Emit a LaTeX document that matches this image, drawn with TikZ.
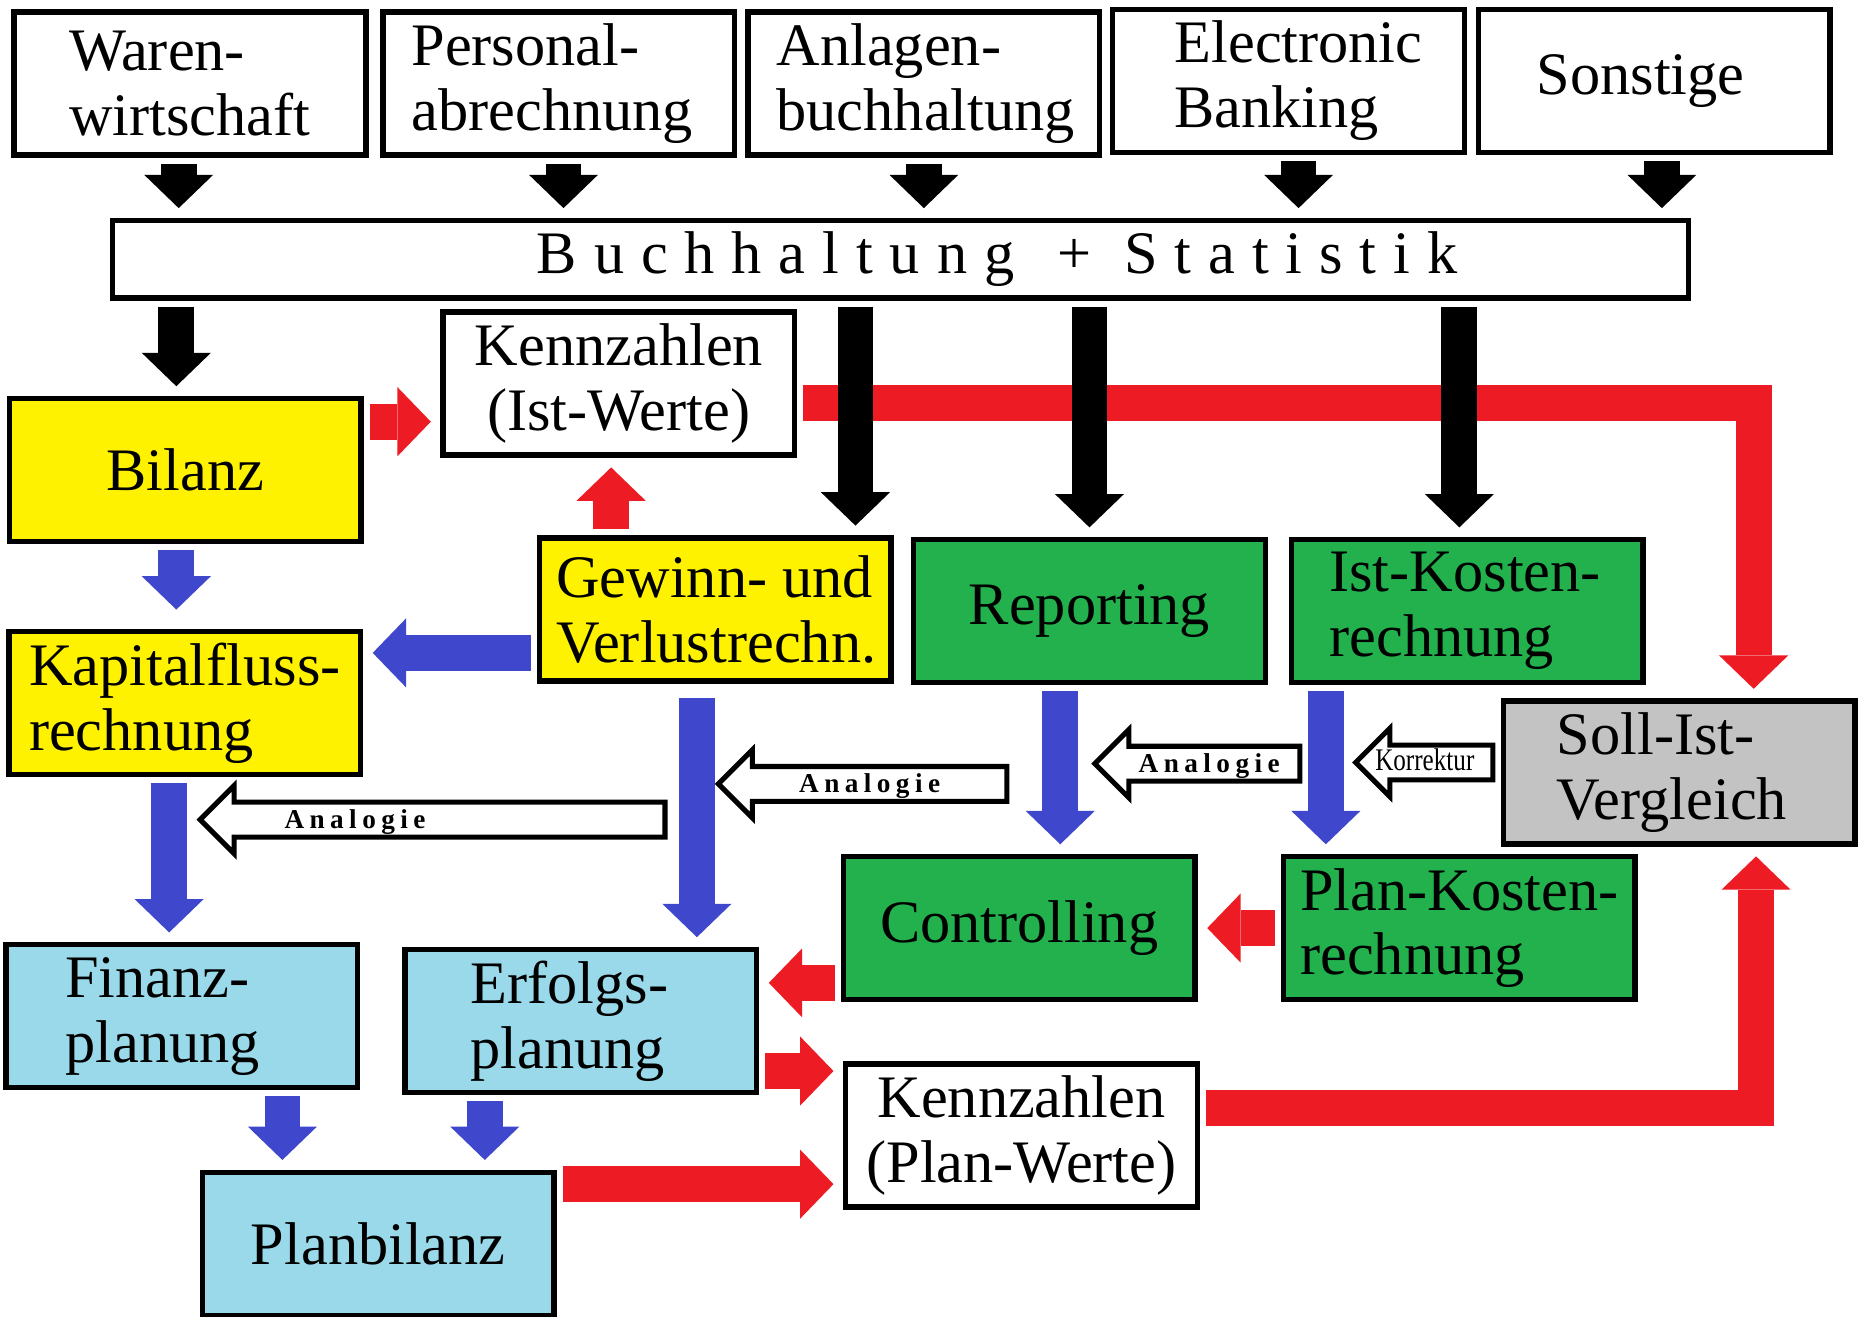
\documentclass[tikz,border=0pt]{standalone}
\usepackage{fontspec}
\setmainfont{Liberation Serif}
\usepackage{xcolor}
\usepackage{graphicx}
\usepackage{tikz}
\usetikzlibrary{positioning, arrows.meta, shapes.arrows}
\definecolor{boxyellow}{HTML}{FFF200}
\definecolor{boxgreen}{HTML}{22B14C}
\definecolor{boxblue}{HTML}{99D9EA}
\definecolor{boxgray}{HTML}{C3C3C3}
\definecolor{arrred}{HTML}{ED1C24}
\definecolor{arrblue}{HTML}{3F48CC}

\tikzset{
  box/.style={draw, line width=1.3pt, minimum width=2.95cm, minimum height=1.2cm,
    inner sep=0pt, align=center, font=\fontsize{14.4}{15.5}\selectfont},
  lbox/.style={box, text width=2.95cm, align=flush left, execute at begin node={\leftskip=#1}},
  fat/.style={line width=0.3cm, shorten <=0.05cm, shorten >=0.08cm,
    -{Triangle[length=0.28cm, width=0.58cm, line width=0pt]}},
  blackfat/.style={fat, black},
  redfat/.style={fat, arrred},
  bluefat/.style={fat, arrblue},
  hollow/.style={single arrow, draw, fill=white, line width=1.2pt, shape border rotate=180,
    inner xsep=0pt, inner ysep=0.125cm, single arrow head extend=0.14cm, anchor=tip},
  analogie/.style={inner sep=0pt, font=\fontsize{6.5}{7}\selectfont\bfseries\addfontfeature{LetterSpace=20}},
}

\begin{document}
\begin{tikzpicture}[x=0.01cm, y=-0.01cm]
  \path[use as bounding box, fill=white] (0,0) rectangle (1568,1105);

  % Quellsysteme
  \node[lbox=0.46cm] (waren) at (159.5,70) {Waren-\\wirtschaft};
  \node[lbox=0.24cm] (personal) at (469,70) {Personal-\\abrechnung};
  \node[lbox=0.24cm] (anlagen) at (775.5,70) {Anlagen-\\buchhaltung};
  \node[lbox=0.52cm] (banking) at (1081.5,68) {Electronic\\Banking};
  \node[lbox=0.49cm] (sonstige) at (1388.5,68) {Sonstige};

  \node[box, minimum width=13.22cm, minimum height=0.65cm,
        font=\fontsize{14.4}{15.5}\selectfont\addfontfeature{LetterSpace=28}] (buch) at (756,217.5)
        {\hspace{1.62cm}Buchhaltung\hspace{0.36cm}+\hspace{0.28cm}Statistik};

  % Ist-Seite
  \node[box] (kist) at (519.5,322) {Kennzahlen\\(Ist-Werte)};
  \node[box, fill=boxyellow] (bilanz) at (155.5,394.5) {Bilanz};
  \node[lbox=0.14cm, fill=boxyellow] (guv) at (600.5,511.5) {Gewinn- und\\Verlustrechn.};
  \node[box, fill=boxgreen] (reporting) at (914.5,513) {Reporting};
  \node[lbox=0.32cm, fill=boxgreen] (istkosten) at (1231.5,513) {Ist-Kosten-\\rechnung};
  \node[lbox=0.17cm, fill=boxyellow] (kapital) at (155,590) {Kapitalfluss-\\rechnung};
  \node[lbox=0.45cm, fill=boxgray] (sollist) at (1409.5,648.5) {Soll-Ist-\\Vergleich};

  % Plan-Seite
  \node[box, fill=boxgreen] (controlling) at (855.5,779) {Controlling};
  \node[lbox=0.14cm, fill=boxgreen] (plankosten) at (1225,779) {Plan-Kosten-\\rechnung};
  \node[lbox=0.5cm, fill=boxblue] (finanz) at (152.5,853) {Finanz-\\planung};
  \node[lbox=0.55cm, fill=boxblue] (erfolg) at (487.5,857) {Erfolgs-\\planung};
  \node[box] (kplan) at (857.5,953) {Kennzahlen\\(Plan-Werte)};
  \node[box, fill=boxblue] (planbilanz) at (317.5,1044) {Planbilanz};

  % in die Buchhaltung
  \draw[blackfat] ([xshift=-0.095cm]waren.south) -- ([xshift=-0.095cm]waren.south |- buch.north);
  \draw[blackfat] ([xshift=0.04cm]personal.south) -- ([xshift=0.04cm]personal.south |- buch.north);
  \draw[blackfat] (anlagen.south) -- (anlagen.south |- buch.north);
  \draw[blackfat] ([xshift=0.085cm]banking.south) -- ([xshift=0.085cm]banking.south |- buch.north);
  \draw[blackfat] ([xshift=0.065cm]sonstige.south) -- ([xshift=0.065cm]sonstige.south |- buch.north);

  % Ist-Werte zum Soll-Ist-Vergleich (unter den schwarzen Pfeilen)
  \draw[redfat] ([yshift=-0.16cm]kist.east) -| ([xshift=0.625cm]sollist.north);

  % aus der Buchhaltung
  \draw[blackfat] ([xshift=-0.075cm]bilanz.north |- buch.south) -- ([xshift=-0.075cm]bilanz.north);
  \draw[blackfat] ([xshift=1.175cm]guv.north |- buch.south) -- ([xshift=1.175cm]guv.north);
  \draw[blackfat] (reporting.north |- buch.south) -- (reporting.north);
  \draw[blackfat] ([xshift=-0.065cm]istkosten.north |- buch.south) -- ([xshift=-0.065cm]istkosten.north);

  % rote Pfeile
  \draw[redfat] ([yshift=0.405cm]bilanz.east) -- ([yshift=0.405cm]bilanz.east -| kist.west);
  \draw[redfat] ([xshift=-0.065cm]kist.south |- guv.north) -- ([xshift=-0.065cm]kist.south);
  \draw[redfat] (plankosten.west) -- (controlling.east);
  \draw[redfat] ([yshift=-0.46cm]controlling.west) -- ([yshift=-0.46cm]controlling.west -| erfolg.east);
  \draw[redfat] ([yshift=-0.42cm]erfolg.east) -- ([yshift=-0.42cm]erfolg.east -| kplan.west);
  \draw[redfat] ([yshift=0.5cm]planbilanz.east) -- ([yshift=0.5cm]planbilanz.east -| kplan.west);
  \draw[redfat] ([yshift=0.23cm]kplan.east) -| ([xshift=0.645cm]sollist.south);

  % blaue Pfeile
  \draw[bluefat, shorten >=0.16cm] ([xshift=-0.075cm]bilanz.south) -- ([xshift=-0.075cm]bilanz.south |- kapital.north);
  \draw[bluefat] ([yshift=-0.365cm]guv.west) -- ([yshift=-0.365cm]guv.west -| kapital.east);
  \draw[bluefat, shorten <=0.12cm] ([xshift=-0.155cm]guv.south) -- ([xshift=-0.155cm]guv.south |- erfolg.north);
  \draw[bluefat] ([xshift=-0.13cm]kapital.south) -- ([xshift=-0.13cm]kapital.south |- finanz.north);
  \draw[bluefat] ([xshift=-0.245cm]reporting.south) -- ([xshift=-0.245cm]reporting.south |- controlling.north);
  \draw[bluefat] ([xshift=-1.185cm]istkosten.south) -- ([xshift=-1.185cm]istkosten.south |- plankosten.north);
  \draw[bluefat] ([xshift=0.845cm]finanz.south) -- ([xshift=0.845cm]finanz.south |- planbilanz.north);
  \draw[bluefat] ([xshift=-0.805cm]erfolg.south) -- ([xshift=-0.805cm]erfolg.south |- planbilanz.north);

  % Analogie / Korrektur
  \node[hollow, minimum height=3.9cm] (ana1) at (165,688) {};
  \node[hollow, minimum height=2.42cm] (ana2) at (600,658) {};
  \node[hollow, minimum height=1.72cm] (ana3) at (916,641) {};
  \node[hollow, minimum height=1.15cm] (korrektur) at (1135,640) {};
  \node[analogie] (ana1txt) at (298,690) {Analogie};
  \node[analogie] (ana2txt) at (730,660) {Analogie};
  \node[analogie] (ana3txt) at (1015,643) {Analogie};
  \node[inner sep=0pt, font=\fontsize{7.5}{8}\selectfont] (korrtxt) at (1196,638) {\scalebox{0.8}[1]{Korrektur}};
\end{tikzpicture}
\end{document}
